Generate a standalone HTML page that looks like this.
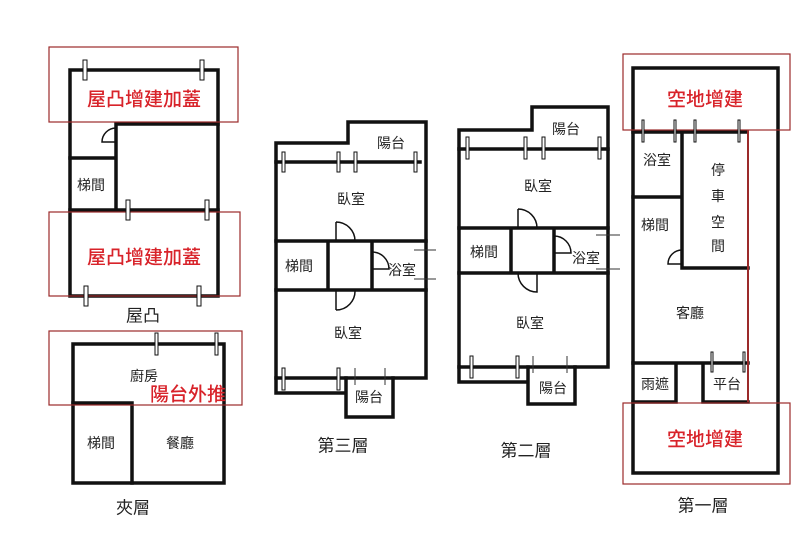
<!DOCTYPE html>
<html><head><meta charset="utf-8"><style>
html,body{margin:0;padding:0;background:#fff;}
svg{display:block}
text{font-family:"Liberation Sans","Noto Sans CJK TC",sans-serif;fill:#222;text-anchor:middle;dominant-baseline:central}
.r{fill:#d8232a;font-size:19px;font-weight:500}
.t{font-size:14px}
.l{font-size:17px}
.w{stroke:#111;stroke-width:3.5;fill:none;stroke-linecap:square}
.rb{stroke:#9b2a2a;stroke-width:1.2;fill:none}
.d{stroke:#111;stroke-width:1.5;fill:none}
.m{stroke:#111;stroke-width:1;fill:#fff}
</style></head><body>
<svg width="800" height="539" viewBox="0 0 800 539" xmlns="http://www.w3.org/2000/svg">
<rect width="800" height="539" fill="#fff"/>
<!-- 屋凸 -->
<rect class="w" x="70" y="70" width="148" height="226"/>
<path class="w" d="M116 124H218M116 124V210M70 158H116M70 210H218"/>
<path class="d" d="M116 128A14 14 0 0 0 102 142H116"/>
<rect class="rb" x="49" y="47" width="189" height="75"/>
<rect class="rb" x="49" y="212" width="191" height="84"/>
<g class="m"><rect x="83" y="60" width="4" height="20"/><rect x="200" y="60" width="4" height="20"/><rect x="126" y="200" width="4" height="20"/><rect x="205" y="200" width="4" height="20"/><rect x="84" y="286" width="4" height="20"/><rect x="197" y="286" width="4" height="20"/></g>
<text class="r" x="144" y="100">屋凸增建加蓋</text>
<text class="r" x="144" y="258">屋凸增建加蓋</text>
<text class="t" x="91" y="185">梯間</text>
<text class="l" x="143" y="316">屋凸</text>
<!-- 夾層 -->
<rect class="w" x="73" y="344" width="151" height="139"/>
<path class="w" d="M73 403H132V483"/>
<rect class="rb" x="49" y="331" width="193" height="74"/>
<g class="m"><rect x="155" y="333" width="3" height="22"/><rect x="215" y="333" width="3" height="22"/></g>
<text class="t" x="144" y="376">廚房</text>
<text class="r" x="188" y="395">陽台外推</text>
<text class="t" x="101" y="443">梯間</text>
<text class="t" x="180" y="443">餐廳</text>
<text class="l" x="133" y="508">夾層</text>
<!-- 第三層 -->
<path class="w" d="M276 143H348V122H426V378H276Z"/>
<path class="w" d="M276 162H420M276 241H426M276 290H426M328 241V290M372 241V290"/>
<path class="w" d="M276 378V393H346M346 378V417H393V378"/>
<path class="d" d="M336 222A19 19 0 0 1 355 241H336V222M372 252A17 17 0 0 1 389 269H372M336 310A19 19 0 0 0 355 290M336 310V290"/>
<g class="m"><rect x="282" y="152" width="3" height="20"/><rect x="337" y="152" width="3" height="20"/><rect x="354" y="152" width="3" height="20"/><rect x="414" y="152" width="3" height="20"/><rect x="282" y="368" width="3" height="22"/><rect x="337" y="368" width="3" height="22"/></g>
<path stroke="#333" d="M414 250H436M414 279H436M355 368V385M385 368V385"/>
<text class="t" x="391" y="143">陽台</text>
<text class="t" x="351" y="199">臥室</text>
<text class="t" x="299" y="266">梯間</text>
<text class="t" x="402" y="270">浴室</text>
<text class="t" x="348" y="333">臥室</text>
<text class="t" x="369" y="397">陽台</text>
<text class="l" x="343" y="446">第三層</text>
<!-- 第二層 -->
<path class="w" d="M459 130H532V107H608V367H459Z"/>
<path class="w" d="M459 149H608M459 228H608M459 273H608M511 228V273M554 228V273"/>
<path class="w" d="M459 367V382H528M528 367V404H575V367"/>
<path class="d" d="M518 209A19 19 0 0 1 537 228H518V209M554 236A17 17 0 0 1 571 253H554M518 273A19 19 0 0 0 537 292V273"/>
<g class="m"><rect x="466" y="137" width="3" height="22"/><rect x="524" y="137" width="3" height="22"/><rect x="542" y="137" width="3" height="22"/><rect x="598" y="137" width="3" height="22"/><rect x="470" y="356" width="3" height="22"/><rect x="516" y="356" width="3" height="22"/></g>
<path stroke="#333" d="M596 235H620M596 269H620M533 356V373M567 356V373"/>
<text class="t" x="566" y="129">陽台</text>
<text class="t" x="538" y="186">臥室</text>
<text class="t" x="484" y="252">梯間</text>
<text class="t" x="586" y="258">浴室</text>
<text class="t" x="530" y="323">臥室</text>
<text class="t" x="553" y="388">陽台</text>
<text class="l" x="526" y="451">第二層</text>
<!-- 第一層 -->
<rect class="w" x="633" y="68" width="145" height="405"/>
<path class="w" d="M633 132H747M682 132V268H748M633 197H682M633 363H748M676 363V402H633M703 363V402H748"/>
<path stroke="#9b2a2a" stroke-width="2" d="M748 130V402"/>
<path class="d" d="M682 250A14 14 0 0 0 668 264H682"/>
<rect class="rb" x="623" y="54" width="167" height="76"/>
<rect class="rb" x="623" y="403" width="167" height="81"/>
<g class="m"><rect x="642" y="120" width="2" height="22"/><rect x="674" y="120" width="2" height="22"/><rect x="694" y="120" width="2" height="22"/><rect x="738" y="120" width="2" height="22"/><rect x="711" y="352" width="2" height="20"/><rect x="743" y="352" width="2" height="20"/></g>
<text class="r" x="705" y="100">空地增建</text>
<text class="t" x="657" y="160">浴室</text>
<text class="t" x="718" y="170">停</text>
<text class="t" x="718" y="196">車</text>
<text class="t" x="718" y="222">空</text>
<text class="t" x="718" y="246">間</text>
<text class="t" x="655" y="225">梯間</text>
<text class="t" x="690" y="313">客廳</text>
<text class="t" x="655" y="384">雨遮</text>
<text class="t" x="727" y="384">平台</text>
<text class="r" x="705" y="440">空地增建</text>
<text class="l" x="703" y="506">第一層</text>
</svg>
</body></html>
